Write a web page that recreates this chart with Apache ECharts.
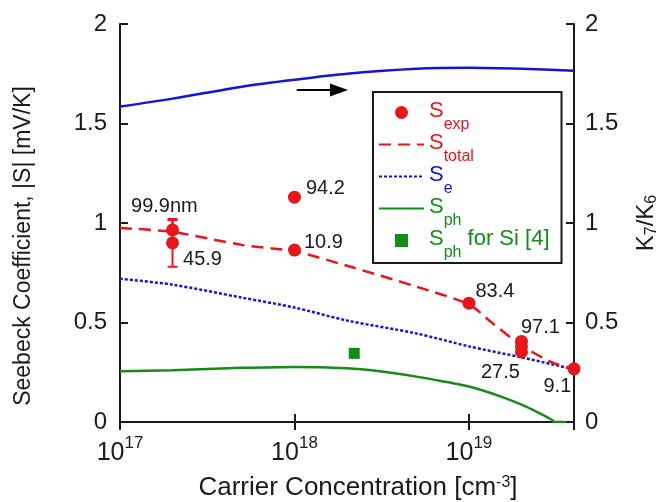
<!DOCTYPE html>
<html>
<head>
<meta charset="utf-8">
<script src="https://cdn.jsdelivr.net/npm/echarts@6/dist/echarts.min.js"></script>
<style>html,body{margin:0;padding:0;background:#fff;}#c{width:668px;height:502px;}</style>
</head>
<body>
<div id="c"></div>
<script>
// ---- data ----
const totalConc = [1e17, 2e17, 5e17, 1e18, 2e18, 5e18, 1e19, 1.35e19, 2e19, 3e19, 4e19];
const totalS    = [0.975, 0.955, 0.89, 0.857, 0.785, 0.68, 0.59, 0.50, 0.385, 0.30, 0.265];

const eConc = [1e17, 2e17, 5e17, 1e18, 2e18, 5e18, 1e19, 2e19, 3e19, 4e19];
const eS    = [0.72, 0.69, 0.625, 0.575, 0.51, 0.445, 0.38, 0.325, 0.29, 0.265];

const phConc = [1e17, 2e17, 5e17, 1e18, 2e18, 3e18, 5e18, 7e18, 1e19, 1.5e19, 2e19, 2.5e19, 3e19, 3.1e19, 3.6e19];
const phS    = [0.255, 0.26, 0.272, 0.277, 0.27, 0.256, 0.228, 0.205, 0.178, 0.13, 0.087, 0.047, 0.01, 0, 0];

const kConc  = [1e17, 2e17, 5e17, 1e18, 2e18, 5e18, 1e19, 2e19, 4e19];
const kRatio = [1.585, 1.625, 1.685, 1.72, 1.75, 1.775, 1.78, 1.775, 1.765];

const expConc   = [2e17, 2e17, 1e18, 1e18, 1e19, 2e19, 2e19, 2e19, 4e19];
const expS      = [0.965, 0.9, 1.13, 0.864, 0.597, 0.405, 0.378, 0.352, 0.267];
const expLabels = ['99.9nm', '45.9', '94.2', '10.9', '83.4', '97.1', '', '27.5', '9.1'];

const errConc = [2e17, 2e17];
const errLow  = [0.915, 0.78];
const errHigh = [1.015, 1.02];

const siConc = [2.2e18];
const siS    = [0.345];

const yTicks = [0, 0.5, 1, 1.5, 2];

// ---- styling (not data) ----
const labelOffsets = [[-48, -23], [4, 17], [5, -9], [3, -8], [0, -12], [-7, -14], [0, 0], [-47, 21], [-37, 18]];
const arrowFrom = [1.03e18, 1.668], arrowTo = [1.8e18, 1.668];

const RED = '#e8161b', BLUE = '#1414d6', GREEN = '#178a17', INK = '#1a1a1a';
const FONT = 'Liberation Sans, Arial, sans-serif';

const zip = (xs, ys) => xs.map((x, i) => [x, ys[i]]);

const expData = expConc.map((x, i) => ({
  value: [x, expS[i]],
  label: {
    show: expLabels[i] !== '',
    formatter: expLabels[i],
    position: 'right',
    distance: 0,
    offset: labelOffsets[i],
    fontSize: 20,
    color: INK,
    fontFamily: FONT
  }
}));

const chart = echarts.init(document.getElementById('c'), null, { renderer: 'canvas' });

const axisLineStyle = { color: INK, width: 2 };
const tickStyle = { show: true, inside: true, length: 8, lineStyle: { color: INK, width: 2 } };

const legendNames = {
  Sexp: '{Sr|S}{sr|exp}',
  Stotal: '{Sr|S}{sr|total}',
  Se: '{Sb|S}{sb|e}',
  Sph: '{Sg|S}{sg|ph}',
  SphSi: '{Sg|S}{sg|ph}{Tg| for Si [4]}'
};
const big = c => ({ fontSize: 22, lineHeight: 30, verticalAlign: 'top', padding: [8, 0, 0, 0], color: c, fontFamily: FONT });
const sub = c => ({ fontSize: 16, lineHeight: 41, verticalAlign: 'top', padding: [25, 0, 0, 0], color: c, fontFamily: FONT });

const option = {
  animation: false,
  textStyle: { fontFamily: FONT },
  grid: { left: 120, right: 94, top: 24, bottom: 80, outerBoundsMode: 'none' },
  legend: {
    orient: 'vertical',
    left: 373,
    top: 92,
    padding: [0, 12, 2, 5],
    itemGap: -9,
    itemWidth: 45,
    itemHeight: 13,
    borderColor: INK,
    borderWidth: 2,
    backgroundColor: '#fff',
    selectedMode: false,
    textStyle: {
      rich: {
        Sr: big(RED), sr: sub(RED),
        Sb: big(BLUE), sb: sub(BLUE),
        Sg: big(GREEN), sg: sub(GREEN),
        Tg: big(GREEN)
      }
    },
    formatter: n => legendNames[n],
    data: [
      { name: 'Sexp', icon: 'circle' },
      { name: 'Stotal', itemStyle: { opacity: 0 } },
      { name: 'Se', itemStyle: { opacity: 0 } },
      { name: 'Sph', itemStyle: { opacity: 0 } },
      { name: 'SphSi', icon: 'path://M0,0L10,0L10,10L0,10Z' }
    ]
  },
  xAxis: [
    {
      type: 'log', logBase: 10, min: 1e17, max: 4e19, position: 'bottom',
      name: 'Carrier Concentration [cm{sup|-3}]',
      nameLocation: 'middle', nameGap: 53,
      nameTextStyle: {
        fontSize: 26, color: INK, padding: [0, 0, 0, 22],
        rich: { sup: { fontSize: 16, lineHeight: 26, verticalAlign: 'top', color: INK, padding: [0, 0, 10, 0] } }
      },
      axisLine: { show: true, lineStyle: axisLineStyle },
      axisTick: tickStyle,
      minorTick: { show: false },
      splitLine: { show: false },
      axisLabel: {
        margin: 13, showMaxLabel: false, color: INK,
        formatter: v => {
          const e = Math.log10(v);
          if (Math.abs(e - Math.round(e)) > 1e-6) return '';
          return '{b|10}{p|' + Math.round(e) + '}';
        },
        rich: {
          b: { fontSize: 25, lineHeight: 31, verticalAlign: 'bottom', color: INK },
          p: { fontSize: 17, lineHeight: 31, verticalAlign: 'top', padding: [0, 0, 12, 0], color: INK }
        }
      }
    },
    {
      type: 'log', logBase: 10, min: 1e17, max: 4e19, position: 'top',
      axisLine: { show: true, lineStyle: axisLineStyle },
      axisTick: tickStyle,
      minorTick: { show: false },
      splitLine: { show: false },
      axisLabel: { show: false }
    }
  ],
  yAxis: [
    {
      type: 'value', min: yTicks[0], max: yTicks[yTicks.length - 1], interval: 0.5, position: 'left',
      name: 'Seebeck Coefficient, |S| [mV/K]',
      nameLocation: 'middle', nameGap: 85, nameRotate: 90,
      nameTextStyle: { fontSize: 23, color: INK, padding: [0, 46, 0, 0] },
      axisLine: { show: true, lineStyle: axisLineStyle },
      axisTick: tickStyle,
      splitLine: { show: false },
      axisLabel: { fontSize: 24, color: INK, margin: 13 }
    },
    {
      type: 'value', min: yTicks[0], max: yTicks[yTicks.length - 1], interval: 0.5, position: 'right',
      name: 'K{sub|7}/K{sub|6}',
      nameLocation: 'middle', nameGap: 58, nameRotate: 90,
      nameTextStyle: {
        fontSize: 24, color: INK,
        rich: { sub: { fontSize: 16, lineHeight: 28, verticalAlign: 'bottom', padding: [10, 0, 0, 0], color: INK } }
      },
      axisLine: { show: true, lineStyle: axisLineStyle },
      axisTick: tickStyle,
      splitLine: { show: false },
      axisLabel: { fontSize: 24, color: INK, margin: 11 }
    }
  ],
  series: [
    {
      name: 'K7K6', type: 'line', xAxisIndex: 0, yAxisIndex: 1,
      data: zip(kConc, kRatio), symbol: 'none', smooth: 0.3,
      lineStyle: { color: BLUE, width: 2.5 }, itemStyle: { color: BLUE },
      silent: true, z: 2,
      markLine: {
        silent: true, animation: false,
        symbol: ['none', 'triangle'], symbolSize: [13, 18],
        lineStyle: { color: '#000', width: 2, type: 'solid' },
        itemStyle: { color: '#000' },
        label: { show: false },
        emphasis: { disabled: true },
        data: [[{ coord: arrowFrom }, { coord: arrowTo }]]
      }
    },
    {
      name: 'Sph', type: 'line', xAxisIndex: 0, yAxisIndex: 0,
      data: zip(phConc, phS), symbol: 'none', smooth: 0.2,
      lineStyle: { color: GREEN, width: 2.5 }, itemStyle: { color: GREEN }, z: 2
    },
    {
      name: 'Se', type: 'line', xAxisIndex: 0, yAxisIndex: 0,
      data: zip(eConc, eS), symbol: 'none', smooth: 0.3,
      lineStyle: { color: BLUE, width: 2.5, type: [3, 2] }, itemStyle: { color: BLUE }, z: 3
    },
    {
      name: 'Stotal', type: 'line', xAxisIndex: 0, yAxisIndex: 0,
      data: zip(totalConc, totalS), symbol: 'none', smooth: 0.3,
      lineStyle: { color: RED, width: 2.5, type: [12, 7] }, itemStyle: { color: RED }, z: 4
    },
    {
      name: 'SphSi', type: 'scatter', xAxisIndex: 0, yAxisIndex: 0,
      data: zip(siConc, siS), symbol: 'rect', symbolSize: 11,
      itemStyle: { color: GREEN, opacity: 1 }, z: 5
    },
    {
      name: 'err', type: 'custom', xAxisIndex: 0, yAxisIndex: 0,
      data: errConc.map((x, i) => [x, errLow[i], errHigh[i]]),
      silent: true, z: 5, clip: false,
      renderItem: (params, api) => {
        const lo = api.coord([api.value(0), api.value(1)]);
        const hi = api.coord([api.value(0), api.value(2)]);
        const w = 5;
        const st = { stroke: RED, lineWidth: 2 };
        return {
          type: 'group',
          children: [
            { type: 'line', shape: { x1: lo[0], y1: lo[1], x2: hi[0], y2: hi[1] }, style: st },
            { type: 'line', shape: { x1: lo[0] - w, y1: lo[1], x2: lo[0] + w, y2: lo[1] }, style: st },
            { type: 'line', shape: { x1: hi[0] - w, y1: hi[1], x2: hi[0] + w, y2: hi[1] }, style: st }
          ]
        };
      }
    },
    {
      name: 'Sexp', type: 'scatter', xAxisIndex: 0, yAxisIndex: 0,
      data: expData, symbol: 'circle', symbolSize: 13, clip: false,
      itemStyle: { color: RED, opacity: 1 }, z: 6
    }
  ]
};
chart.setOption(option);
</script>
</body>
</html>
